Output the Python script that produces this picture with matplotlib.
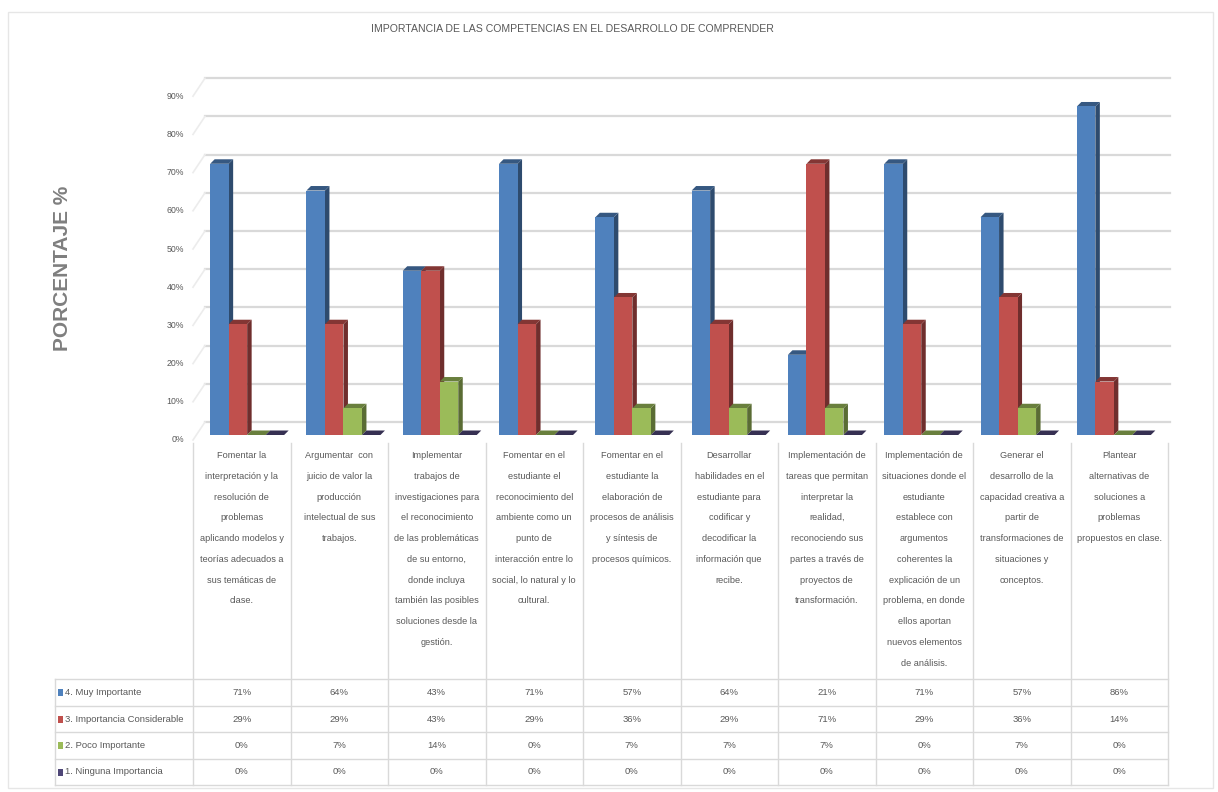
import matplotlib
matplotlib.use("Agg")
import matplotlib.pyplot as plt
import matplotlib.colors as mcolors
from matplotlib.patches import Polygon, Rectangle

# --- data ---------------------------------------------------------------
categories = [
    "Fomentar la\ninterpretación y la\nresolución de\nproblemas\naplicando modelos y\nteorías adecuados a\nsus temáticas de\nclase.",
    "Argumentar  con\njuicio de valor la\nproducción\nintelectual de sus\ntrabajos.",
    "Implementar\ntrabajos de\ninvestigaciones para\nel reconocimiento\nde las problemáticas\nde su entorno,\ndonde incluya\ntambién las posibles\nsoluciones desde la\ngestión.",
    "Fomentar en el\nestudiante el\nreconocimiento del\nambiente como un\npunto de\ninteracción entre lo\nsocial, lo natural y lo\ncultural.",
    "Fomentar en el\nestudiante la\nelaboración de\nprocesos de análisis\ny síntesis de\nprocesos químicos.",
    "Desarrollar\nhabilidades en el\nestudiante para\ncodificar y\ndecodificar la\ninformación que\nrecibe.",
    "Implementación de\ntareas que permitan\ninterpretar la\nrealidad,\nreconociendo sus\npartes a través de\nproyectos de\ntransformación.",
    "Implementación de\nsituaciones donde el\nestudiante\nestablece con\nargumentos\ncoherentes la\nexplicación de un\nproblema, en donde\nellos aportan\nnuevos elementos\nde análisis.",
    "Generar el\ndesarrollo de la\ncapacidad creativa a\npartir de\ntransformaciones de\nsituaciones y\nconceptos.",
    "Plantear\nalternativas de\nsoluciones a\nproblemas\npropuestos en clase.",
]
series_names = ["4. Muy Importante", "3. Importancia Considerable",
                "2. Poco Importante", "1. Ninguna Importancia"]
muy_importante = [71, 64, 43, 71, 57, 64, 21, 71, 57, 86]
importancia_considerable = [29, 29, 43, 29, 36, 29, 71, 29, 36, 14]
poco_importante = [0, 7, 14, 0, 7, 7, 7, 0, 7, 0]
ninguna_importancia = [0, 0, 0, 0, 0, 0, 0, 0, 0, 0]
y_ticks = [0, 10, 20, 30, 40, 50, 60, 70, 80, 90]

series = [muy_importante, importancia_considerable, poco_importante, ninguna_importancia]
colors = ["#4F81BD", "#C0504D", "#9BBB59", "#4F4778"]

FONT = ["Liberation Sans", "DejaVu Sans"]
GRAY = "#595959"
GRID = "#d9d9d9"

W, H = 1218, 792
fig = plt.figure(figsize=(W / 100, H / 100), dpi=100)
fig.patch.set_facecolor("white")

# pixel overlay for the frame, title and data table
tab = fig.add_axes([0, 0, 1, 1])
tab.set_xlim(0, W)
tab.set_ylim(H, 0)
tab.axis("off")
tab.patch.set_alpha(0)

# chart area border
tab.add_patch(Rectangle((8, 12), 1205, 776, fill=False, ec="#e6e6e6", lw=1))

# --- 3D columns -----------------------------------------------------------
ax_left, ax_right = 200, 1163
base_px, top_px = 435, 435 - 9 * 38.2
ax = fig.add_axes([ax_left / W, (H - base_px) / H,
                   (ax_right - ax_left) / W, (base_px - top_px) / H])
ax.set_xlim(-0.5, 9.5)
ax.set_ylim(0, 90)
ax.axis("off")
ax.patch.set_alpha(0)

px_x = (ax_right - ax_left) / 10.0   # pixels per category
px_y = (base_px - top_px) / 90.0     # pixels per percent

def shade(c, f):
    r, g, b = mcolors.to_rgb(c)
    return (r * f, g * f, b * f)

# back wall gridlines and the side-wall diagonals
wall_dx, wall_dy = 12 / px_x, 13 / px_y
front_dx, front_dy = -7 / px_x, -5 / px_y
wall_x0, wall_x1 = -0.5 + 5 / px_x, 9.5 + 7 / px_x
for t in y_ticks:
    ax.plot([wall_x0, wall_x1], [t + wall_dy, t + wall_dy], color=GRID, lw=1.6,
            clip_on=False, zorder=1)
    ax.plot([-0.5 + front_dx, wall_x0], [t + front_dy, t + wall_dy], color="#ececec",
            lw=1.2, clip_on=False, zorder=1)
    ax.text(-0.5 - 16 / px_x, t + front_dy, f"{t}%", ha="right", va="center",
            fontsize=6.3, color=GRAY, family=FONT)

bar_w = 18.5 / px_x
start = -38.0 / px_x
dx, dy = 4.5 / px_x, 4.5 / px_y
for i in range(len(categories)):
    for k, vals in enumerate(series):
        h = vals[i]
        x0 = i + start + k * bar_w
        c = colors[k]
        side = [(x0 + bar_w, 0), (x0 + bar_w + dx, dy), (x0 + bar_w + dx, h + dy), (x0 + bar_w, h)]
        top = [(x0, h), (x0 + dx, h + dy), (x0 + bar_w + dx, h + dy), (x0 + bar_w, h)]
        ax.add_patch(Polygon(side, closed=True, fc=shade(c, 0.58), ec="none", zorder=3, clip_on=False))
        ax.add_patch(Polygon(top, closed=True, fc=shade(c, 0.68), ec="none", zorder=3, clip_on=False))
        if h > 0:
            ax.add_patch(Rectangle((x0, 0), bar_w, h, fc=c, ec="none", zorder=3))

# --- titles ---------------------------------------------------------------
tab.text(572, 29, "IMPORTANCIA DE LAS COMPETENCIAS EN EL DESARROLLO DE COMPRENDER",
         ha="center", va="center", fontsize=7.6, color=GRAY, family=FONT)
tab.text(62, 268, "PORCENTAJE %", rotation=90, ha="center", va="center",
         fontsize=15, fontweight="bold", color="#7f7f7f", family=FONT)

# --- data table -----------------------------------------------------------
col_x0, col_w = 193, 97.5
n = len(categories)
row_lines = [679, 706, 732, 759, 785]
for kk in range(n + 1):
    x = col_x0 + kk * col_w
    tab.plot([x, x], [443, row_lines[-1]], color=GRID, lw=1)
tab.plot([55, 55], [row_lines[0], row_lines[-1]], color=GRID, lw=1)
for y in row_lines:
    tab.plot([55, col_x0 + n * col_w], [y, y], color=GRID, lw=1)

for i, text in enumerate(categories):
    cx = col_x0 + (i + 0.5) * col_w
    tab.text(cx, 451, text, ha="center", va="top", fontsize=6.6, color=GRAY,
             family=FONT, linespacing=2.68)

for k, (name, vals) in enumerate(zip(series_names, series)):
    yc = (row_lines[k] + row_lines[k + 1]) / 2
    tab.add_patch(Rectangle((58, yc - 3.5), 5, 7, fc=colors[k], ec="none"))
    tab.text(65, yc, name, ha="left", va="center", fontsize=6.8, color=GRAY, family=FONT)
    for i, v in enumerate(vals):
        cx = col_x0 + (i + 0.5) * col_w
        tab.text(cx, yc, f"{v}%", ha="center", va="center", fontsize=6.8,
                 color=GRAY, family=FONT)

fig.savefig("out.png", dpi=100, facecolor="white")
